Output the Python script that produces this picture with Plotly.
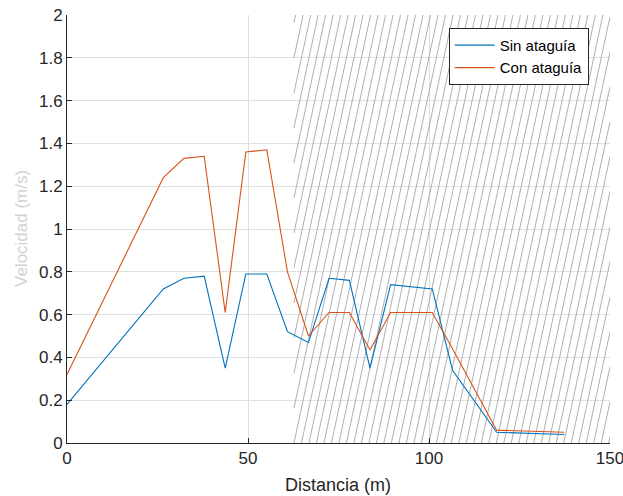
import numpy as np
import plotly.graph_objects as go

# Data
distancia = [0, 26.6, 32.3, 37.9, 43.7, 49.4, 55.2, 60.9, 66.7, 72.4, 78.0,
             83.7, 89.4, 100.9, 106.5, 118.7, 137.4]
sin_ataguia = [0.18, 0.72, 0.77, 0.78, 0.35, 0.79, 0.79, 0.52, 0.47, 0.77, 0.76,
               0.35, 0.74, 0.72, 0.34, 0.05, 0.04]
con_ataguia = [0.32, 1.24, 1.33, 1.34, 0.61, 1.36, 1.37, 0.80, 0.50, 0.61, 0.61,
               0.435, 0.61, 0.61, 0.44, 0.06, 0.05]

# Hatched zone
hatch_x0 = 62.7
hatch_x1 = 150.0
hatch_y0 = 0.0
hatch_y1 = 2.0
hatch_spacing = 2.07     # horizontal distance between hatch lines
hatch_shift = 25.3       # horizontal shift of a hatch line over the full height

hx, hy = [], []
k_min = int(np.floor(-hatch_shift / hatch_spacing)) - 1
k_max = int(np.ceil((hatch_x1 - hatch_x0) / hatch_spacing)) + 1
H = hatch_y1 - hatch_y0
for k in range(k_min, k_max + 1):
    xb = hatch_x0 + k * hatch_spacing
    y_at_left = hatch_y0 + (hatch_x0 - xb) * H / hatch_shift
    y_at_right = hatch_y0 + (hatch_x1 - xb) * H / hatch_shift
    ya = max(hatch_y0, y_at_left)
    yb = min(hatch_y1, y_at_right)
    if yb <= ya:
        continue
    hx += [xb + (ya - hatch_y0) * hatch_shift / H, xb + (yb - hatch_y0) * hatch_shift / H, None]
    hy += [ya, yb, None]

FONT = "Liberation Sans, Arial, sans-serif"

fig = go.Figure()
fig.add_trace(go.Scatter(x=hx, y=hy, mode="lines", line=dict(color="#a6a6a6", width=0.9),
                         showlegend=False, hoverinfo="skip"))
fig.add_trace(go.Scatter(x=distancia, y=sin_ataguia, mode="lines", name="Sin ataguía",
                         line=dict(color="#0072BD", width=1.1)))
fig.add_trace(go.Scatter(x=distancia, y=con_ataguia, mode="lines", name="Con ataguía",
                         line=dict(color="#D95319", width=1.1)))

axis_common = dict(showline=True, linecolor="#262626", linewidth=1, mirror=False,
                   ticks="inside", ticklen=5, tickcolor="#262626", automargin=False,
                   ticklabeloverflow="allow",
                   showgrid=True, gridcolor="#dfdfdf", gridwidth=1, zeroline=False,
                   tickfont=dict(family=FONT, size=17, color="#262626"))

fig.update_layout(
    width=623, height=496,
    margin=dict(l=67, r=13, t=15, b=53, autoexpand=False),
    paper_bgcolor="white", plot_bgcolor="white",
    xaxis=dict(range=[0, 150], dtick=50, tick0=0, **axis_common),
    yaxis=dict(range=[0, 2], dtick=0.2, tick0=0, **axis_common),
    legend=dict(x=0.703, y=0.97, xanchor="left", yanchor="top",
                bgcolor="white", bordercolor="#262626", borderwidth=1,
                font=dict(family=FONT, size=15, color="#000000"),
                tracegroupgap=0, itemwidth=40),
    showlegend=True,
    annotations=[
        dict(text="Distancia (m)", xref="paper", yref="paper", x=0.499, y=0,
             yshift=-42, xanchor="center", yanchor="middle", showarrow=False,
             font=dict(family=FONT, size=18, color="#262626")),
        dict(text="Velocidad (m/s)", xref="paper", yref="paper", x=0, y=0.5,
             xshift=-46, xanchor="center", yanchor="middle", showarrow=False, textangle=-90,
             font=dict(family=FONT, size=17, color="#d2d2d2")),
    ],
)

fig.write_html("out.html", config={"displayModeBar": False},
               post_script="document.body.style.margin='0';document.body.style.overflow='hidden';")
